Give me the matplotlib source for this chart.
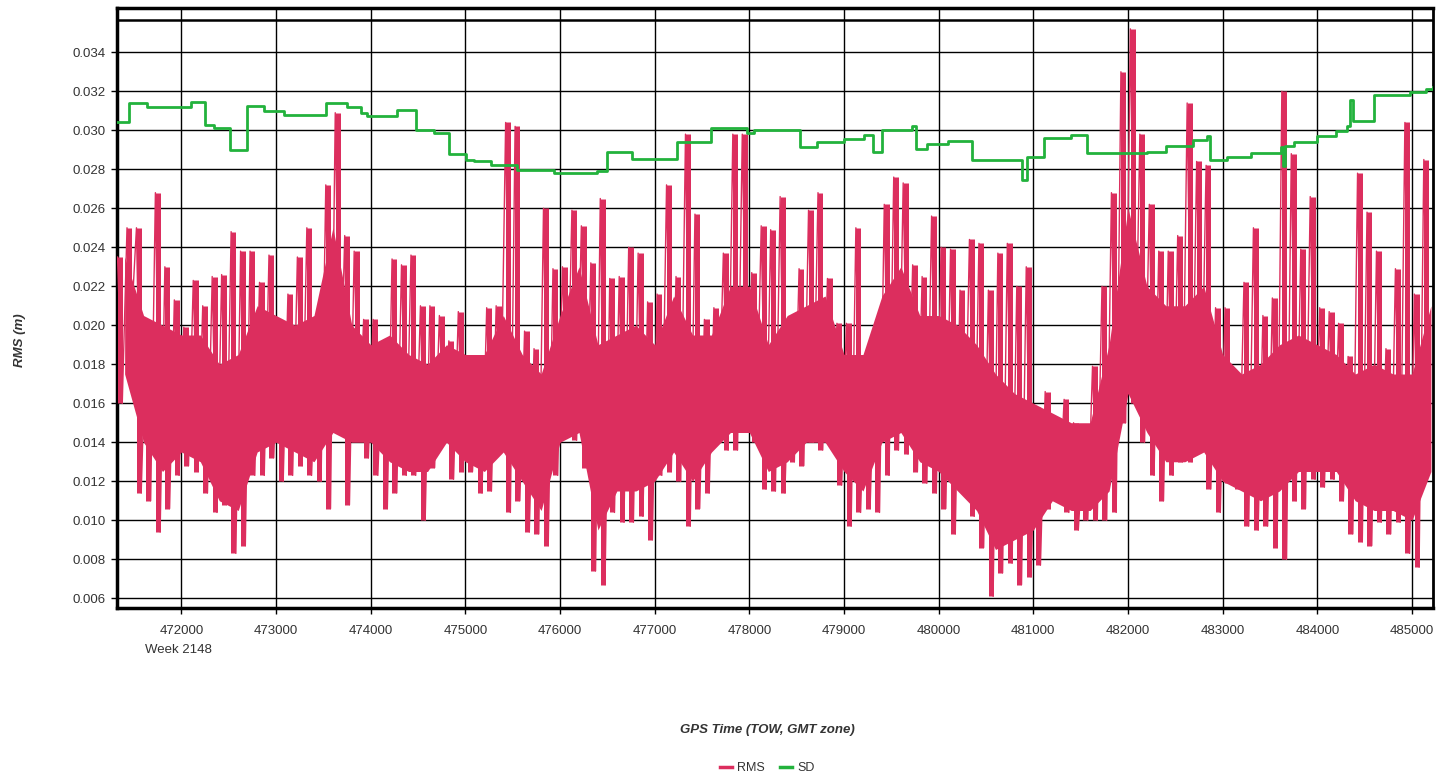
"""RMS / SD of GPS solution over GPS time of week (week 2148)."""

import numpy as np
import matplotlib
matplotlib.use("Agg")
import matplotlib.pyplot as plt
from matplotlib.lines import Line2D

plt.rcParams["font.family"] = ["Liberation Sans", "DejaVu Sans"]

RMS_COLOR = "#dc2e5e"
SD_COLOR = "#22b23c"

# RMS, read per 100 s slot starting at 471300 (values in mm): slot peak and slot trough
rms_start = 471300
rms_slot = 100
rms_peak = [
    23.5, 25.0, 25.0, 19.7, 26.8, 23.0, 21.3, 19.9, 22.3, 21.0,
    22.5, 22.6, 24.8, 23.8, 23.8, 22.2, 23.6, 19.7, 21.6, 23.5,
    25.0, 19.0, 27.2, 30.9, 24.6, 23.8, 20.3, 20.3, 19.0, 23.4,
    23.1, 23.6, 21.0, 21.0, 20.5, 19.2, 20.7, 18.4, 17.9, 20.9,
    21.0, 30.4, 30.2, 19.7, 18.8, 26.0, 22.9, 23.0, 25.9, 25.1,
    23.2, 26.5, 22.4, 22.5, 24.0, 23.7, 21.2, 21.6, 27.2, 22.5,
    29.8, 25.7, 20.3, 20.9, 23.7, 29.8, 29.8, 22.7, 25.1, 24.9,
    26.6, 19.2, 22.9, 25.9, 26.8, 22.4, 20.1, 20.1, 25.0, 18.5,
    18.7, 26.2, 27.6, 27.3, 23.1, 22.5, 25.6, 24.0, 23.9, 21.8,
    24.4, 24.2, 21.8, 23.7, 24.2, 22.0, 23.0, 15.8, 16.6, 14.9,
    16.2, 15.0, 13.6, 17.9, 22.0, 26.8, 33.0, 35.2, 29.8, 26.2,
    23.8, 23.8, 24.6, 31.4, 28.4, 28.2, 20.9, 20.9, 16.8, 22.2,
    25.0, 20.5, 21.4, 32.0, 28.8, 23.9, 26.6, 20.9, 20.7, 20.1,
    18.4, 27.8, 25.8, 23.8, 18.8, 22.9, 30.4, 21.6, 28.5,
]
rms_trough = [
    16.0, 20.5, 11.4, 11.0, 9.4, 10.6, 12.3, 12.8, 12.5, 11.4,
    10.4, 10.8, 8.3, 8.7, 12.3, 12.3, 13.2, 12.0, 12.3, 12.8,
    12.3, 12.0, 10.6, 15.1, 10.8, 14.2, 13.2, 12.3, 10.6, 11.4,
    12.3, 12.3, 10.0, 12.7, 14.2, 12.1, 12.5, 12.5, 11.4, 11.5,
    14.9, 10.4, 11.0, 9.4, 9.3, 8.7, 12.3, 14.6, 14.1, 12.7,
    7.4, 6.7, 10.4, 9.9, 9.9, 10.2, 9.0, 12.3, 12.5, 12.0,
    9.7, 10.6, 11.4, 14.2, 13.6, 13.6, 14.7, 14.0, 11.6, 11.5,
    11.4, 13.0, 12.8, 14.0, 13.6, 14.2, 11.8, 9.7, 10.4, 10.6,
    10.4, 12.3, 13.6, 13.4, 12.5, 11.9, 11.4, 10.6, 9.3, 12.3,
    10.2, 8.6, 6.1, 7.3, 7.8, 6.7, 7.1, 7.7, 10.6, 11.0,
    10.4, 9.5, 10.0, 10.0, 10.0, 10.4, 15.0, 16.0, 14.0, 12.3,
    11.0, 12.3, 13.0, 13.0, 14.9, 11.6, 10.4, 11.9, 11.6, 9.7,
    9.5, 9.7, 8.6, 8.0, 11.0, 10.6, 12.1, 11.7, 12.1, 11.0,
    9.3, 8.9, 8.7, 9.9, 9.3, 9.9, 8.3, 7.6, 12.7,
]

# dense core of the RMS trace, read per 200 s block (mm)
core_slot = 200
core_lo = [
    17.5, 14.0, 12.5, 13.5, 13.0, 11.0, 10.5, 13.5, 14.0, 13.5,
    13.0, 14.5, 14.0, 14.0, 13.0, 12.5, 12.5, 14.0, 13.0, 12.5,
    13.5, 12.0, 10.5, 14.0, 14.5, 9.5, 11.5, 11.5, 12.0, 13.5,
    12.0, 13.5, 14.5, 14.5, 12.5, 13.0, 14.0, 14.0, 12.5, 11.5,
    14.0, 14.5, 13.0, 12.5, 11.5, 10.5, 8.5, 9.0, 9.5, 11.0,
    10.5, 10.5, 11.5, 16.5, 14.5, 13.0, 13.0, 13.5, 12.0, 11.5,
    11.0, 11.5, 12.5, 12.5, 12.5, 11.0, 10.5, 10.5, 10.0, 12.5,
]
core_hi = [
    23.5, 20.5, 20.0, 19.5, 19.5, 18.0, 18.5, 21.0, 20.5, 20.0,
    20.5, 25.0, 20.0, 19.0, 19.5, 18.5, 18.0, 19.0, 18.5, 18.5,
    20.5, 18.5, 17.5, 20.5, 23.0, 19.0, 19.5, 20.0, 19.0, 21.5,
    19.5, 19.5, 22.0, 22.0, 19.0, 20.5, 21.0, 21.5, 18.5, 18.5,
    21.5, 23.0, 20.5, 20.5, 20.0, 19.0, 17.5, 16.5, 16.0, 15.5,
    15.0, 15.0, 19.0, 26.0, 22.0, 21.0, 21.0, 22.0, 18.5, 17.5,
    18.0, 19.0, 19.5, 19.0, 18.5, 17.5, 18.0, 17.5, 17.5, 21.0,
]

# SD: step changes (TOW, mm)
sd_tow = [
    471320, 471447, 471641, 472098, 472246, 472342, 472513, 472697, 472873, 473084,
    473524, 473753, 473893, 473964, 474281, 474474, 474665, 474826, 475002, 475090,
    475266, 475548, 475935, 476393, 476499, 476763, 477238, 477590, 477977, 478047,
    478540, 478716, 479000, 479208, 479311, 479403, 479719, 479760, 479878, 480100,
    480353, 480881, 480930, 481109, 481400, 481567, 482201, 482400, 482690, 482834,
    482868, 483046, 483300, 483612, 483640, 483660, 483750, 484000, 484200, 484313,
    484348, 484380, 484594, 484984, 485150, 485225,
]
sd_val = [
    30.4, 31.4, 31.2, 31.45, 30.25, 30.1, 29.0, 31.25, 31.0, 30.8,
    31.4, 31.2, 30.9, 30.75, 31.05, 30.0, 29.85, 28.8, 28.5, 28.4,
    28.2, 27.95, 27.8, 27.9, 28.9, 28.55, 29.4, 30.1, 29.85, 30.0,
    29.15, 29.4, 29.55, 29.75, 28.9, 30.0, 30.2, 29.05, 29.3, 29.45,
    28.45, 27.45, 28.65, 29.6, 29.75, 28.85, 28.9, 29.2, 29.5, 29.7,
    28.45, 28.65, 28.85, 29.15, 28.15, 29.2, 29.4, 29.7, 29.95, 30.2,
    31.55, 30.45, 31.8, 31.95, 32.1, 32.2,
]

x_ticks = list(range(472000, 485001, 1000))
y_ticks = [0.006, 0.008, 0.010, 0.012, 0.014, 0.016, 0.018, 0.020,
           0.022, 0.024, 0.026, 0.028, 0.030, 0.032, 0.034]

# --- build plotting arrays ---
n = len(rms_peak)
slot_t = rms_start + rms_slot * np.arange(n)
peak = np.array(rms_peak) / 1000.0
trough = np.array(rms_trough) / 1000.0
rms_t = np.column_stack([slot_t + 25, slot_t + 75]).ravel()
rms_v = np.column_stack([peak, trough]).ravel()

core_t = rms_start + core_slot * np.arange(len(core_lo)) + core_slot / 2

fig = plt.figure(figsize=(14.56, 7.77), dpi=100)
ax = fig.add_axes([0.0804, 0.2175, 0.904, 0.7722])

# dense part of the trace
ax.fill_between(core_t, np.array(core_lo) / 1000.0, np.array(core_hi) / 1000.0,
                color=RMS_COLOR, lw=0, zorder=2)
# per-slot excursions
ax.vlines(slot_t + 50, trough, peak, color=RMS_COLOR, lw=3.6, zorder=3)
ax.plot(rms_t, rms_v, color=RMS_COLOR, lw=1.0, zorder=3)
ax.plot(sd_tow, np.array(sd_val) / 1000.0, drawstyle="steps-post",
        color=SD_COLOR, lw=2.0, zorder=4)

ax.set_xlim(471320, 485225)
ax.set_ylim(0.0055, 0.03627)
ax.set_xticks(x_ticks)
ax.set_xticklabels([str(t) for t in x_ticks])
ax.set_yticks(y_ticks)
ax.set_yticklabels([f"{v:.3f}" for v in y_ticks])

ax.set_axisbelow(True)
ax.grid(True, color="black", lw=1.0)
ax.axhline(0.03566, color="black", lw=1.8, zorder=1)

ax.tick_params(axis="both", direction="out", length=4, width=1, color="black",
               labelcolor="#333333", labelsize=9.5)
ax.tick_params(axis="x", pad=8)
ax.tick_params(axis="y", pad=4)
for side, w in [("left", 2.5), ("bottom", 2.5), ("top", 2.5), ("right", 2.0)]:
    ax.spines[side].set_linewidth(w)
    ax.spines[side].set_color("black")

fig.text(0.1225, 0.1634, "Week 2148", ha="center", va="center", fontsize=9.5, color="#333333")
fig.text(0.0137, 0.5624, "RMS (m)", rotation=90, ha="center", va="center",
         fontsize=9.5, fontstyle="italic", fontweight="bold", color="#333333")
fig.text(0.527, 0.0605, "GPS Time (TOW, GMT zone)", ha="center", va="center",
         fontsize=9.5, fontstyle="italic", fontweight="bold", color="#333333")

handles = [Line2D([], [], color=RMS_COLOR, lw=2.5), Line2D([], [], color=SD_COLOR, lw=2.5)]
fig.legend(handles, ["RMS", "SD"], loc="center", bbox_to_anchor=(0.527, 0.0116), ncol=2,
           frameon=False, handlelength=1.0, fontsize=9, columnspacing=1.2,
           handletextpad=0.4, labelcolor="#333333")

fig.savefig("out.png", dpi=100, facecolor="white")
plt.close(fig)
